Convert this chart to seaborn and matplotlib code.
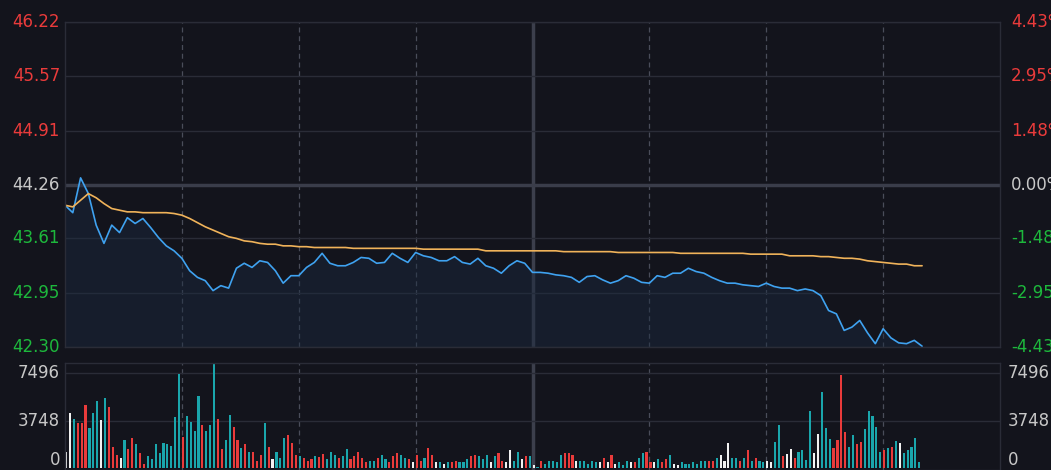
import numpy as np
import pandas as pd
import matplotlib
matplotlib.use("Agg")
import matplotlib.pyplot as plt
import seaborn as sns

sns.set_theme(style="dark")
plt.rcParams['font.family'] = ['DejaVu Sans']

prev_close = 44.26
price_ticks = [46.22, 45.57, 44.91, 44.26, 43.61, 42.95, 42.30]
pct_labels = ["4.43%", "2.95%", "1.48%", "0.00%", "-1.48%", "-2.95%", "-4.43%"]
vol_ticks = [0, 3748, 7496]

# price every 2 minutes
price = [44.01, 43.92, 44.34, 44.15, 43.77, 43.55, 43.77, 43.68, 43.86, 43.79,
         43.85, 43.74, 43.62, 43.52, 43.46, 43.37, 43.22, 43.14, 43.10, 42.98,
         43.04, 43.01, 43.25, 43.31, 43.26, 43.34, 43.32, 43.22, 43.07, 43.16,
         43.16, 43.26, 43.32, 43.43, 43.31, 43.28, 43.28, 43.32, 43.38, 43.37,
         43.31, 43.32, 43.43, 43.37, 43.32, 43.44, 43.40, 43.38, 43.34, 43.34,
         43.39, 43.32, 43.30, 43.37, 43.28, 43.25, 43.19, 43.28, 43.34, 43.31,
         43.20,
         43.20, 43.19, 43.17, 43.16, 43.14, 43.08, 43.15, 43.16, 43.11, 43.07,
         43.10, 43.16, 43.13, 43.08, 43.07, 43.16, 43.14, 43.19, 43.19, 43.25,
         43.21, 43.19, 43.14, 43.10, 43.07, 43.07, 43.05, 43.04, 43.03, 43.07,
         43.03, 43.01, 43.01, 42.98, 43.00, 42.98, 42.92, 42.74, 42.70, 42.50,
         42.54, 42.62, 42.47, 42.34, 42.52, 42.41, 42.35, 42.34, 42.38, 42.31]
avg = [44.01, 43.99, 44.07, 44.15, 44.10, 44.03, 43.97, 43.95, 43.93, 43.93,
       43.92, 43.92, 43.92, 43.92, 43.91, 43.89, 43.85, 43.80, 43.75, 43.71,
       43.67, 43.63, 43.61, 43.58, 43.57, 43.55, 43.54, 43.54, 43.52, 43.52,
       43.51, 43.51, 43.50, 43.50, 43.50, 43.50, 43.50, 43.49, 43.49, 43.49,
       43.49, 43.49, 43.49, 43.49, 43.49, 43.49, 43.48, 43.48, 43.48, 43.48,
       43.48, 43.48, 43.48, 43.48, 43.46, 43.46, 43.46, 43.46, 43.46, 43.46,
       43.46,
       43.46, 43.46, 43.46, 43.45, 43.45, 43.45, 43.45, 43.45, 43.45, 43.45,
       43.44, 43.44, 43.44, 43.44, 43.44, 43.44, 43.44, 43.44, 43.43, 43.43,
       43.43, 43.43, 43.43, 43.43, 43.43, 43.43, 43.43, 43.42, 43.42, 43.42,
       43.42, 43.42, 43.40, 43.40, 43.40, 43.40, 43.39, 43.39, 43.38, 43.37,
       43.37, 43.36, 43.34, 43.33, 43.32, 43.31, 43.30, 43.30, 43.28, 43.28]
price_minute = list(range(0, 2 * len(price), 2))

volume = [1290, 4370, 3870, 3520, 3520, 4970, 3130, 4370, 5290, 3780,
          5550, 4840, 1630, 1030, 820, 2210, 1500, 2340, 1870, 1160,
          320, 950, 680, 1870, 1160, 1950, 1870, 1740, 4050, 7440,
          2420, 4100, 3660, 2950, 5680, 3390, 2950, 3390, 8360, 3870,
          1500, 2210, 4180, 3210, 2210, 1610, 1870, 1260, 1260, 580,
          1030, 3530, 1630, 680, 1260, 820, 2340, 2600, 2000, 1030,
          970, 820,
          580, 700, 950, 870, 1100, 700, 1290, 1030, 820, 950,
          1500, 700, 950, 1290, 820, 450, 580, 580, 820, 1030,
          700, 450, 950, 1160, 1030, 820, 700, 450, 1030, 580,
          820, 1550, 1030, 450, 450, 300, 450, 450, 580, 450,
          450, 700, 950, 1030, 950, 700, 1030, 450, 950, 1160,
          580, 450, 1420, 580,
          1290, 700, 950, 950, 200, 100, 580, 300, 580, 580,
          450, 1030, 1160, 1160, 1030, 580, 580, 580, 300, 580,
          450, 450, 820, 450, 1030, 300, 450, 200, 580, 450,
          450, 820, 1160, 1290, 450, 450, 700, 450, 700, 1030,
          300, 200, 450, 300, 300, 450, 300, 580, 580, 580,
          580, 820, 1030, 580, 2000, 820, 820, 580, 820, 1420,
          580, 820, 580, 450, 580, 450,
          2080, 3390, 950, 1100, 1470, 800, 1300, 1420, 600, 4500,
          1200, 2650, 6020, 3130, 2260, 1550, 2210, 7340, 2810, 1630,
          2600, 1870, 2080, 3050, 4500, 4100, 3210, 1290, 1420, 1550,
          1680, 2130, 1950, 1160, 1420, 1630, 2340, 500]
vol_dir = list("wwgrrrgggwgrrrwgrrgrrgggggggggrggggrgggrrggrrgrgrrrgrwgggrrrgr"
               "rrgrrgggrggrrrrrggrggrrrggrwrrgrrwgwgrrgggrrgggwgrr"
               "wwggwrgwgrgggggrrrwgggggwrwrwgggwrggrrwgrrgwwgggggggrrgwwwggrgrgrg"
               "gwwggrwwrggggwwgggrrrrggrrgggggrgrgw")
vol_dir = (vol_dir + ["g"] * len(volume))[:len(volume)]
vol_minute = list(range(len(volume)))

BG = "#13141c"
GRID = "#2a2c37"
RED = "#ea3b3b"
GREEN = "#1db83c"
TEAL = "#1aa6ac"
WHITE = "#f2f2f2"
BLUE = "#3fa2f0"
ORANGE = "#f0b35a"
colmap = {"r": RED, "g": TEAL, "w": WHITE}

fig = plt.figure(figsize=(10.51, 4.70), dpi=100, facecolor=BG)
W, H = 1051, 470
ax = fig.add_axes([65 / W, (H - 347) / H, (1000 - 65) / W, (347 - 22) / H], facecolor=BG)
axv = fig.add_axes([65 / W, 0, (1000 - 65) / W, (H - 363) / H], facecolor=BG)

df = pd.DataFrame({"minute": price_minute, "price": price, "avg": avg})
ax.fill_between(df["minute"], df["price"], 42.30, color="#1b2a40", alpha=0.45, lw=0)
sns.lineplot(data=df, x="minute", y="price", ax=ax, color=BLUE, lw=1.2)
sns.lineplot(data=df, x="minute", y="avg", ax=ax, color=ORANGE, lw=1.2)
ax.set_xlim(0, 240)
ax.set_ylim(42.30, 46.22)

for a in (ax, axv):
    a.set_xticks([])
    a.set_yticks([])
    a.set_xlabel("")
    a.set_ylabel("")
    for s in a.spines.values():
        s.set_color(GRID)
        s.set_linewidth(1)
    for m in [30, 60, 90, 150, 180, 210]:
        a.axvline(m, color="#4a4d5a", lw=0.9, ls=(0, (4, 3)), zorder=0)
    a.axvline(120, color="#3c3f4c", lw=2.5, zorder=0)

for p in price_ticks:
    if p == prev_close:
        ax.axhline(p, color="#3a3d4a", lw=2.5, zorder=0)
    else:
        ax.axhline(p, color=GRID, lw=1, zorder=0)

for i, (p, lab) in enumerate(zip(price_ticks, pct_labels)):
    c = RED if p > prev_close else (GREEN if p < prev_close else "#c8c8c8")
    y = ax.transData.transform((0, p))[1] / H
    fig.text(60 / W, y, f"{p:.2f}", color=c, fontsize=12, ha="right", va="center")
    fig.text(1011 / W, y, lab, color=c, fontsize=12, ha="left", va="center")

vcolors = [colmap[d] for d in vol_dir]
axv.bar(vol_minute, volume, width=0.55, color=vcolors, align="edge", linewidth=0)
axv.set_xlim(0, 240)
axv.set_ylim(-160, 8290)
for v in vol_ticks[1:]:
    axv.axhline(v, color=GRID, lw=1, zorder=0)
for v in vol_ticks:
    y = axv.transData.transform((0, v))[1] / H
    y = max(y, 10 / H)
    fig.text(60 / W, y, str(v), color="#c8c8c8", fontsize=12, ha="right", va="center")
    fig.text(1008 / W, y, str(v), color="#c8c8c8", fontsize=12, ha="left", va="center")

fig.savefig("out.png", dpi=100, facecolor=BG)
